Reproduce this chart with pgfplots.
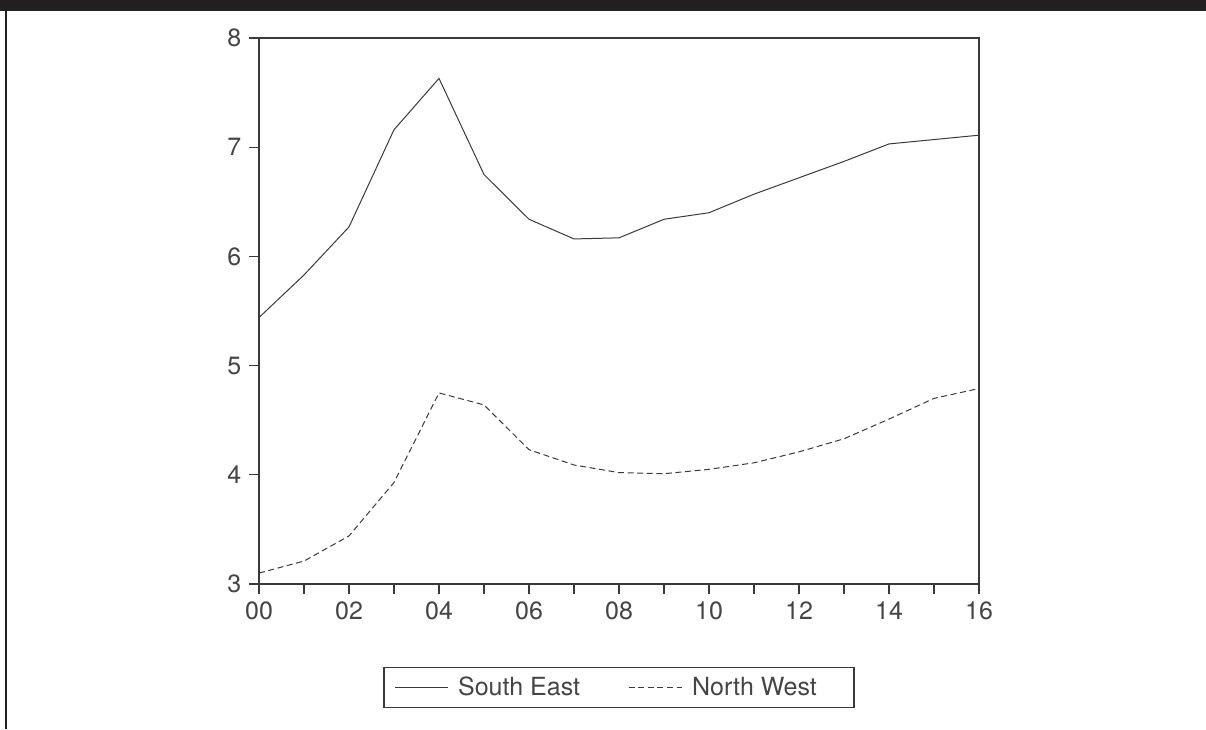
\documentclass[border=0pt]{standalone}
\usepackage{pgfplots}
\pgfplotsset{compat=1.18}
\usepackage{fontspec}
\setmainfont{TeX Gyre Heros}
\definecolor{ink}{HTML}{3A3A3A}
\definecolor{txt}{HTML}{454545}
\definecolor{barc}{HTML}{231F20}
\begin{document}
\begin{tikzpicture}
\path[use as bounding box] (0,0) rectangle (603pt,364.5pt);
\fill[barc] (0,359pt) rectangle (603pt,364.5pt);
\draw[barc,line width=1pt] (3.2pt,0) -- (3.2pt,359pt);
\begin{axis}[
  at={(129.5pt,72.5pt)}, anchor=south west,
  scale only axis, width=360pt, height=273pt,
  xmin=0, xmax=16, ymin=3, ymax=8,
  axis line style={ink, line width=0.75pt},
  xtick={0,2,...,16},
  xticklabels={00,02,04,06,08,10,12,14,16},
  minor xtick={1,3,...,15},
  ytick={3,4,5,6,7,8},
  yticklabels={3,4,5,6,7,8},
  xtick pos=bottom, ytick pos=left,
  tick align=outside,
  major tick length=4.8pt, minor tick length=4.8pt,
  every tick/.style={ink, line width=0.6pt},
  minor tick style={ink, line width=0.6pt},
  tick label style={font=\fontsize{12.5}{15}\selectfont, text=txt},
  xticklabel style={yshift=-0.5pt},
  yticklabel style={xshift=-0.5pt},
  legend style={at={(0.5,-0.152)}, anchor=north, draw=ink, line width=0.6pt,
    font=\fontsize{12.5}{15}\selectfont, text=txt,
    inner xsep=5pt, inner ysep=2.5pt,
    /tikz/every odd column/.append style={column sep=3pt},
    /tikz/every even column/.append style={column sep=22pt}},
  legend columns=2,
  legend image code/.code={\draw[#1] (0pt,0pt) -- (26.5pt,0pt);},
]
\addplot[ink, line width=0.5pt] coordinates {
(0,5.44) (1,5.83) (2,6.27) (3,7.16) (4,7.63) (5,6.75) (6,6.34) (7,6.16)
(8,6.17) (9,6.34) (10,6.40) (11,6.57) (12,6.72) (13,6.87) (14,7.03)
(15,7.07) (16,7.11)};
\addlegendentry{South East}
\addplot[ink, line width=0.5pt, dash pattern=on 3pt off 1.8pt] coordinates {
(0,3.10) (1,3.21) (2,3.44) (3,3.93) (4,4.75) (5,4.64) (6,4.23) (7,4.09)
(8,4.02) (9,4.01) (10,4.05) (11,4.11) (12,4.21) (13,4.33) (14,4.51)
(15,4.70) (16,4.79)};
\addlegendentry{North West\rule{11.5pt}{0pt}}
\end{axis}
\end{tikzpicture}
\end{document}
